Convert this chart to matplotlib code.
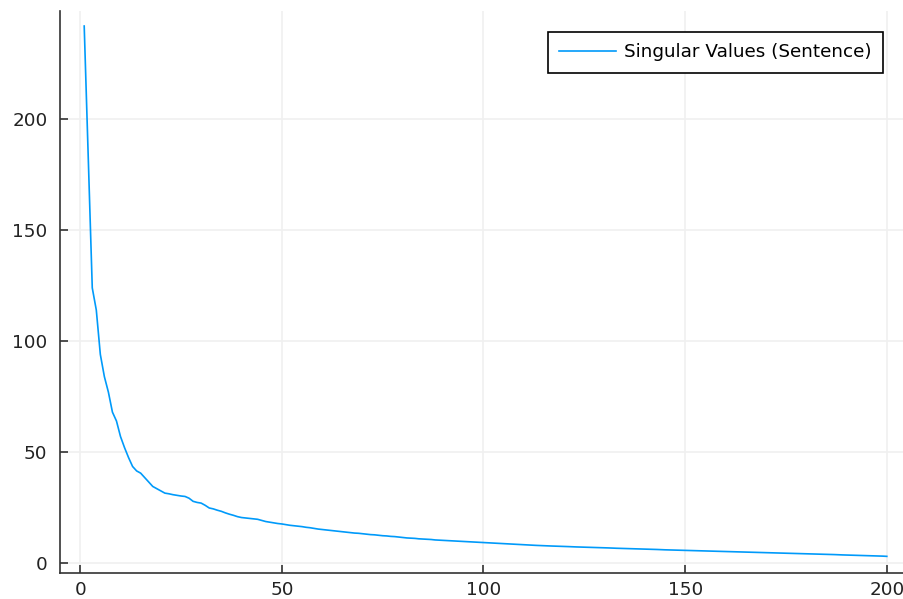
import numpy as np
import matplotlib.pyplot as plt

# singular values, index 1..200
head = [242, 183, 124, 114, 94, 84, 77, 68, 64, 57,
        52, 47.5, 43.5, 41.5, 40.5, 38.5, 36.5, 34.5, 33.5, 32.5,
        31.5, 31.2, 30.8, 30.5, 30.2, 30.0, 29.2, 27.8, 27.3, 27.0,
        26.0, 24.8, 24.4, 23.8, 23.3, 22.6, 22.0, 21.5, 20.9, 20.5,
        20.3, 20.1, 19.9, 19.7, 19.2, 18.7, 18.4, 18.1, 17.8, 17.6]
mid = [17.3, 17.0, 16.8, 16.6, 16.4, 16.1, 15.9, 15.6, 15.3, 15.1,
       14.9, 14.7, 14.5, 14.3, 14.1, 13.9, 13.7, 13.5, 13.4, 13.2,
       13.0, 12.8, 12.7, 12.5, 12.3, 12.2, 12.0, 11.9, 11.7, 11.5,
       11.3, 11.2, 11.1, 10.9, 10.8, 10.7, 10.6, 10.4, 10.3, 10.2,
       10.1, 10.0, 9.9, 9.8, 9.7, 9.6, 9.5, 9.4, 9.3, 9.2]
tail1 = [9.1, 9.0, 8.9, 8.8, 8.7, 8.6, 8.5, 8.4, 8.3, 8.2,
         8.1, 8.0, 7.95, 7.9, 7.8, 7.7, 7.65, 7.6, 7.5, 7.45,
         7.4, 7.3, 7.25, 7.2, 7.1, 7.05, 7.0, 6.95, 6.9, 6.85,
         6.8, 6.7, 6.65, 6.6, 6.5, 6.45, 6.4, 6.35, 6.3, 6.25,
         6.2, 6.15, 6.1, 6.0, 5.95, 5.9, 5.85, 5.8, 5.75, 5.7]
tail2 = [5.65, 5.6, 5.55, 5.5, 5.45, 5.4, 5.35, 5.3, 5.25, 5.2,
         5.15, 5.1, 5.05, 5.0, 4.95, 4.9, 4.85, 4.8, 4.75, 4.7,
         4.65, 4.6, 4.55, 4.5, 4.45, 4.4, 4.35, 4.3, 4.25, 4.2,
         4.15, 4.1, 4.0, 3.95, 3.9, 3.85, 3.8, 3.7, 3.65, 3.6,
         3.55, 3.5, 3.45, 3.4, 3.35, 3.3, 3.25, 3.2, 3.1, 3.0]
sv = np.array(head + mid + tail1 + tail2)
idx = np.arange(1, len(sv) + 1)

W, H = 904, 599
fig = plt.figure(figsize=(W/100, H/100), dpi=100)
# axes runs a bit past the right edge, like the cropped original
ax = fig.add_axes([60/W, 1 - 573/H, (911-60)/W, (573-10.5)/H])

ax.plot(idx, sv, color='#009AFA', lw=1.2, label='Singular Values (Sentence)')

ax.set_xlim(-5, 206)
ax.set_ylim(-4.5, 249)
ax.set_xticks([0, 50, 100, 150, 200])
ax.set_yticks([0, 50, 100, 150, 200])
ax.grid(True, color='#f0f0f0', lw=1.2)
ax.set_axisbelow(True)
for s in ['top', 'right']:
    ax.spines[s].set_visible(False)
for s in ['left', 'bottom']:
    ax.spines[s].set_color('#333333')
    ax.spines[s].set_linewidth(1.2)
ax.tick_params(direction='in', length=6, width=1.2, color='#333333',
               labelsize=13.2, labelcolor='#222222')
ax.tick_params(axis='y', pad=9)
ax.tick_params(axis='x', pad=6)

leg = ax.legend(loc='upper right', bbox_to_anchor=((883-60)/(911-60), 1 - (32-10.5)/(573-10.5)),
                fontsize=13.2, fancybox=False, edgecolor='black', framealpha=1,
                borderpad=0.62, handlelength=3.1, handletextpad=0.45, borderaxespad=0)
leg.get_frame().set_linewidth(1.2)

fig.savefig('out.png', dpi=100)
